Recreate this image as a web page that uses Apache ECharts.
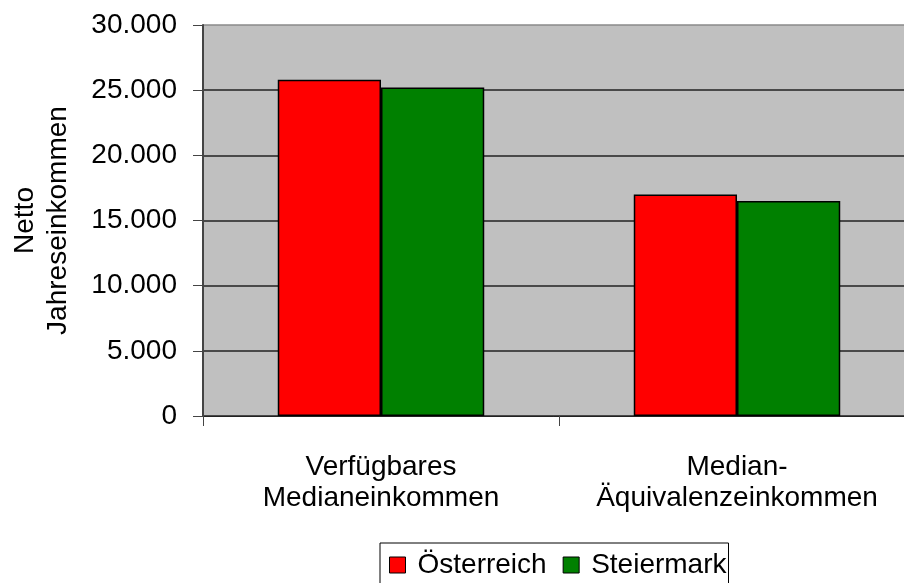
<!DOCTYPE html>
<html>
<head>
<meta charset="utf-8">
<script src="https://cdn.jsdelivr.net/npm/echarts@6/dist/echarts.min.js"></script>
<style>
html,body{margin:0;padding:0;background:#fff;}
#chart{width:904px;height:583px;}
</style>
</head>
<body>
<div id="chart"></div>
<script>
const categories = ['Verfügbares\nMedianeinkommen', 'Median-\nÄquivalenzeinkommen'];
const seriesNames = ['Österreich', 'Steiermark'];
const oesterreich = [25800, 17000];
const steiermark = [25200, 16500];
const yAxisName = 'Netto\nJahreseinkommen';
const yMin = 0, yMax = 30000, yInterval = 5000;

const FONT = "'Liberation Sans', Arial, sans-serif";
const chart = echarts.init(document.getElementById('chart'), null, {renderer: 'canvas'});

function fmt(v) {
  return String(v).replace(/\B(?=(\d{3})+(?!\d))/g, '.');
}

chart.setOption({
  animation: false,
  backgroundColor: '#ffffff',
  textStyle: {fontFamily: FONT},
  grid: {
    left: 203, top: 25, right: -11, height: 391,
    outerBoundsMode: 'none',
    containLabel: false,
    show: true, backgroundColor: '#C0C0C0', borderWidth: 0
  },
  legend: {
    left: 380, top: 543,
    padding: [8, 2, 20, 9],
    itemGap: 16,
    itemWidth: 16, itemHeight: 16,
    borderColor: '#000', borderWidth: 1,
    icon: 'rect',
    itemStyle: {borderColor: '#000', borderWidth: 1},
    textStyle: {fontSize: 28, color: '#000', fontFamily: FONT, padding: [0, 0, 0, 7]},
    data: seriesNames
  },
  xAxis: {
    type: 'category',
    data: categories,
    axisLine: {lineStyle: {color: '#222', width: 1}},
    axisTick: {show: true, length: 10, lineStyle: {color: '#444'}},
    axisLabel: {fontSize: 28, color: '#000', fontFamily: FONT, margin: 36, lineHeight: 31, interval: 0}
  },
  yAxis: {
    type: 'value',
    min: yMin, max: yMax, interval: yInterval,
    name: yAxisName,
    nameLocation: 'middle',
    nameRotate: 90,
    nameGap: 128,
    nameMoveOverlap: false,
    nameTextStyle: {fontSize: 28, color: '#000', fontFamily: FONT, lineHeight: 33},
    axisLine: {show: true, lineStyle: {color: '#444', width: 2}},
    axisTick: {show: true, length: 10, lineStyle: {color: '#444'}},
    axisLabel: {fontSize: 28, color: '#000', fontFamily: FONT, margin: 26, formatter: fmt},
    splitLine: {show: true, lineStyle: {color: ['#222','#222','#222','#222','#222','#222','#8a8a8a'], width: 1.5}}
  },
  series: [
    {
      name: seriesNames[0], type: 'bar', data: oesterreich,
      barGap: '0%', barCategoryGap: '42%',
      itemStyle: {color: '#FF0000', borderColor: '#000', borderWidth: 1.5}
    },
    {
      name: seriesNames[1], type: 'bar', data: steiermark,
      barGap: '0%', barCategoryGap: '42%',
      itemStyle: {color: '#008000', borderColor: '#000', borderWidth: 1.5}
    }
  ]
});
</script>
</body>
</html>
